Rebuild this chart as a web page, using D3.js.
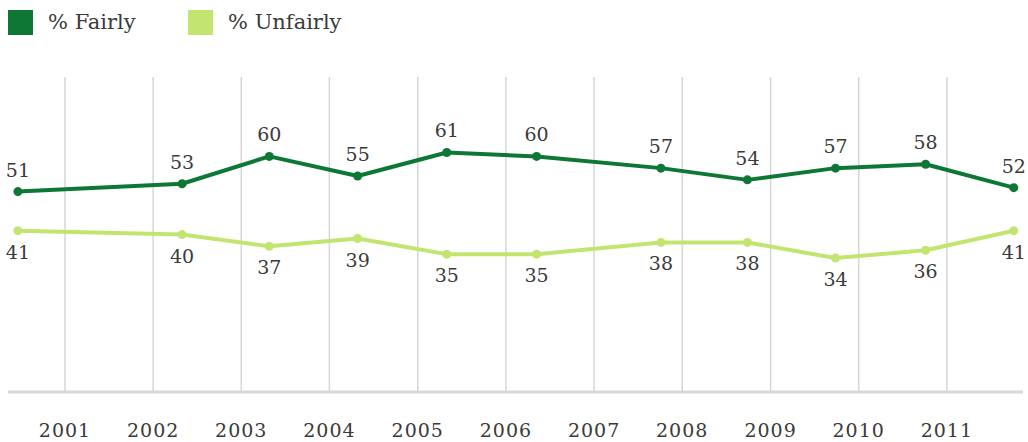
<!DOCTYPE html>
<html>
<head>
<meta charset="utf-8">
<script src="https://cdn.jsdelivr.net/npm/d3@7"></script>
<style>
  body { margin: 0; background: #fff; }
  svg text { font-family: "DejaVu Serif", "Liberation Serif", serif; fill: #3a3a3a; }
</style>
</head>
<body>
<div id="chart"></div>
<script>
// Poll dates and values
const dates = ["2000-06-20", "2002-05-01", "2003-04-27", "2004-04-27", "2005-05-01",
    "2006-05-08", "2007-10-05", "2008-09-27", "2009-09-27", "2010-10-05", "2011-10-05"];
const fairly = [51, 53, 60, 55, 61, 60, 57, 54, 57, 58, 52];
const unfairly = [41, 40, 37, 39, 35, 35, 38, 38, 34, 36, 41];
const years = [2001, 2002, 2003, 2004, 2005, 2006, 2007, 2008, 2009, 2010, 2011];
const seriesNames = ["% Fairly", "% Unfairly"];
const colors = ["#0d7835", "#c2e570"];

const width = 1028, height = 442;
const parse = d3.timeParse("%Y-%m-%d");

const svg = d3.select("#chart").append("svg")
    .attr("width", width)
    .attr("height", height);

// Scales
const x = d3.scaleTime()
    .domain([new Date(2001, 0, 1), new Date(2012, 0, 1)])
    .range([65, 1035]);

const y = d3.scaleLinear()
    .domain([0, 100])
    .range([391, 0]);

// Vertical gridlines at each year
svg.append("g")
    .selectAll("line")
    .data(years)
    .enter()
    .append("line")
    .attr("x1", d => x(new Date(d, 0, 1)))
    .attr("x2", d => x(new Date(d, 0, 1)))
    .attr("y1", 77)
    .attr("y2", 392)
    .attr("stroke", "#d6d6d6")
    .attr("stroke-width", 1.5);

// Baseline
svg.append("line")
    .attr("x1", 8).attr("x2", 1023)
    .attr("y1", 392).attr("y2", 392)
    .attr("stroke", "#d8d8d4")
    .attr("stroke-width", 3);

// Year labels
svg.append("g")
    .selectAll("text")
    .data(years)
    .enter()
    .append("text")
    .attr("x", d => x(new Date(d, 0, 1)))
    .attr("y", 437)
    .attr("text-anchor", "middle")
    .style("font-size", "19px")
    .style("letter-spacing", "1px")
    .text(d => d);

// Build series
const series = [fairly, unfairly].map((vals, i) => ({
    name: seriesNames[i],
    color: colors[i],
    points: vals.map((v, j) => ({ date: parse(dates[j]), value: v }))
}));

const line = d3.line()
    .x(d => x(d.date))
    .y(d => y(d.value));

series.forEach((s, i) => {
    const g = svg.append("g");
    g.append("path")
        .datum(s.points)
        .attr("fill", "none")
        .attr("stroke", s.color)
        .attr("stroke-width", 4)
        .attr("stroke-linejoin", "round")
        .attr("d", line);

    g.selectAll("circle")
        .data(s.points)
        .enter()
        .append("circle")
        .attr("cx", d => x(d.date))
        .attr("cy", d => y(d.value))
        .attr("r", 4.5)
        .attr("fill", s.color);

    // labels above for the first series, below for the second
    g.selectAll("text")
        .data(s.points)
        .enter()
        .append("text")
        .attr("x", d => x(d.date))
        .attr("y", d => y(d.value) + (i === 0 ? -15 : 28))
        .attr("text-anchor", "middle")
        .style("font-size", "19px")
        .text(d => d.value);
});

// Legend
const legend = svg.append("g")
    .selectAll("g")
    .data(series)
    .enter()
    .append("g")
    .attr("transform", (d, i) => `translate(${i === 0 ? 8 : 188},10)`);

legend.append("rect")
    .attr("width", 25)
    .attr("height", 25)
    .attr("fill", d => d.color);

legend.append("text")
    .attr("x", 40)
    .attr("y", 19)
    .style("font-size", "21px")
    .text(d => d.name);
</script>
</body>
</html>
